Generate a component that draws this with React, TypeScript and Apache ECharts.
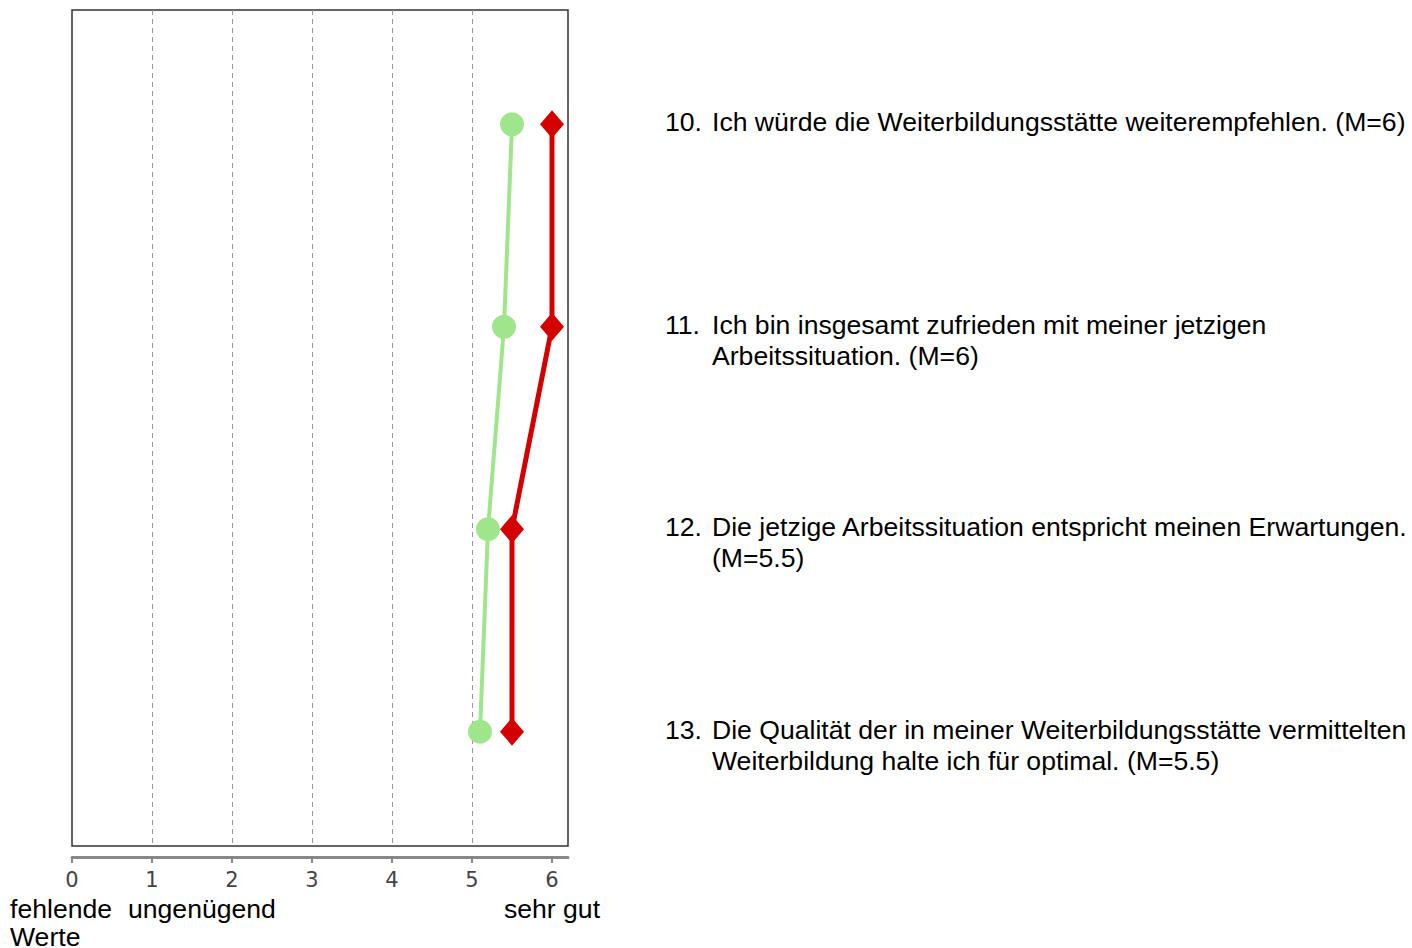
import React, { useEffect, useRef } from "react";
import * as echarts from "echarts";

const rows = [1, 2, 3, 4];
const greenValues = [5.5, 5.4, 5.2, 5.1];
const redValues = [6, 6, 5.5, 5.5];
const tickValues = [0, 1, 2, 3, 4, 5, 6];
const itemNumbers = ["10.", "11.", "12.", "13."];
const itemLines = [
  ["Ich würde die Weiterbildungsstätte weiterempfehlen. (M=6)"],
  ["Ich bin insgesamt zufrieden mit meiner jetzigen", "Arbeitssituation. (M=6)"],
  ["Die jetzige Arbeitssituation entspricht meinen Erwartungen.", "(M=5.5)"],
  ["Die Qualität der in meiner Weiterbildungsstätte vermittelten", "Weiterbildung halte ich für optimal. (M=5.5)"],
];

const FONT = "Liberation Sans";
const FS = 26.6;

export default function App() {
  const ref = useRef<HTMLDivElement>(null);
  useEffect(() => {
    document.body.style.margin = "0";
    const chart = echarts.init(ref.current!, null, { renderer: "svg" });
    chart.setOption({
      animation: false,
      grid: {
        left: 72,
        top: 10,
        width: 496,
        height: 836,
        show: true,
        borderColor: "#333",
        borderWidth: 1.5,
        backgroundColor: "transparent",
      },
      xAxis: {
        type: "value",
        min: 0,
        max: 6.2,
        interval: 1,
        offset: 11,
        axisLine: { show: true, lineStyle: { color: "#888", width: 3 } },
        axisTick: { show: true, length: 6, customValues: tickValues, lineStyle: { color: "#888", width: 2 } },
        axisLabel: {
          customValues: tickValues,
          color: "#444",
          fontSize: 21,
          fontFamily: "DejaVu Sans",
          margin: 12,
        },
        splitLine: {
          show: true,
          showMinLine: false,
          showMaxLine: false,
          lineStyle: { color: "#999", width: 1, type: [5, 4] },
        },
      },
      yAxis: {
        type: "value",
        inverse: true,
        min: 0.435,
        max: 4.565,
        show: false,
        splitLine: { show: false },
      },
      series: [
        {
          type: "line",
          data: greenValues.map((v, i) => [v, rows[i]]),
          lineStyle: { color: "#9fe58c", width: 4 },
          itemStyle: { color: "#9fe58c" },
          symbol: "circle",
          symbolSize: 24,
          z: 2,
        },
        {
          type: "line",
          data: redValues.map((v, i) => [v, rows[i]]),
          lineStyle: { color: "#d40000", width: 5 },
          itemStyle: { color: "#d40000" },
          symbol: "diamond",
          symbolSize: [24, 28],
          z: 3,
        },
      ],
    });

    const txt = (text: string, x: number, y: number, align = "left") => ({
      type: "text",
      style: { text, x, y, fill: "#000", fontSize: FS, fontFamily: FONT, align, verticalAlign: "middle" },
    });
    const graphics: any[] = [];
    rows.forEach((r, i) => {
      const y = chart.convertToPixel({ gridIndex: 0 }, [0, r])[1] - 2;
      graphics.push(txt(itemNumbers[i], 665, y));
      itemLines[i].forEach((line, j) => graphics.push(txt(line, 712, y + j * 31)));
    });
    const sehrX = chart.convertToPixel({ gridIndex: 0 }, [6, 1])[0];
    graphics.push(
      txt("fehlende", 10, 909),
      txt("Werte", 10, 937),
      txt("ungenügend", 128, 909),
      txt("sehr gut", sehrX, 909, "center")
    );
    chart.setOption({ graphic: graphics });
    return () => chart.dispose();
  }, []);
  return <div ref={ref} style={{ width: 1412, height: 948 }} />;
}
